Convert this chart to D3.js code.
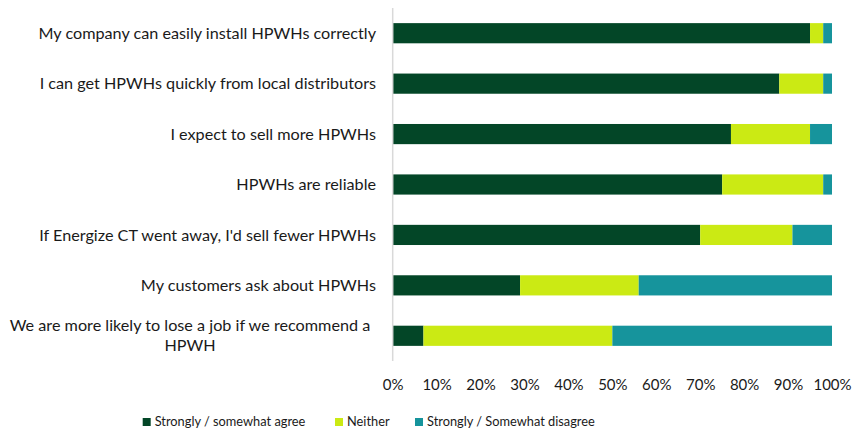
<!DOCTYPE html>
<html>
<head>
<meta charset="utf-8">
<script src="https://cdn.jsdelivr.net/npm/d3@7"></script>
<style>
  body { margin: 0; background: #fff; }
  svg { font-family: Lato, "Open Sans", sans-serif; }
</style>
</head>
<body>
<div id="chart"></div>
<script>
// data (percent)
var categories = [
  "My company can easily install HPWHs correctly",
  "I can get HPWHs quickly from local distributors",
  "I expect to sell more HPWHs",
  "HPWHs are reliable",
  "If Energize CT went away, I'd sell fewer HPWHs",
  "My customers ask about HPWHs",
  "We are more likely to lose a job if we recommend a|HPWH"
]
var agree    = [95, 88, 77, 75, 70, 29, 7]
var neither  = [3, 10, 18, 23, 21, 27, 43]
var disagree = [2, 2, 5, 2, 9, 44, 50]
var seriesNames = ["Strongly / somewhat agree", "Neither", "Strongly / Somewhat disagree"]
var ticks = [0, 10, 20, 30, 40, 50, 60, 70, 80, 90, 100]

var width = 854, height = 433
var colors = ["#034627", "#cbea14", "#16949c"]

var svg = d3.select("#chart").append("svg")
  .attr("width", width)
  .attr("height", height)

var x = d3.scaleLinear().domain([0, 100]).range([392.7, 832])
var y = d3.scaleBand().domain(categories).range([8, 361]).paddingInner(0.6).paddingOuter(0.3)

var rows = categories.map(function(c, i) {
  return { cat: c, agree: agree[i], neither: neither[i], disagree: disagree[i] }
})
var stack = d3.stack().keys(["agree", "neither", "disagree"])
var layers = stack(rows)

svg.selectAll("g.layer")
  .data(layers)
  .enter()
  .append("g")
    .attr("fill", function(d, i) { return colors[i] })
  .selectAll("rect")
  .data(function(d) { return d })
  .enter()
  .append("rect")
    .attr("x", function(d) { return x(d[0]) })
    .attr("width", function(d) { return x(d[1]) - x(d[0]) })
    .attr("y", function(d) { return y(d.data.cat) })
    .attr("height", y.bandwidth())

// category axis line
svg.append("line")
  .attr("x1", x(0)).attr("x2", x(0))
  .attr("y1", 8).attr("y2", 361)
  .attr("stroke", "#d9d9d9")
  .attr("stroke-width", 1.5)

// category labels (| = line break, wrapped lines are centred)
categories.forEach(function(c) {
  var lines = c.split("|")
  var cy = y(c) + y.bandwidth() / 2
  if (lines.length == 1) {
    svg.append("text")
      .attr("x", 376)
      .attr("y", cy)
      .attr("dy", "0.35em")
      .attr("text-anchor", "end")
      .style("font-size", "16.2px")
      .attr("fill", "#1a1a1a")
      .text(c)
  } else {
    lines.forEach(function(l, j) {
      svg.append("text")
        .attr("x", 190)
        .attr("y", cy + (j - (lines.length - 1) / 2) * 20)
        .attr("dy", "0.35em")
        .attr("text-anchor", "middle")
        .style("font-size", "16.2px")
        .attr("fill", "#1a1a1a")
        .text(l)
    })
  }
})

// x axis tick labels
var xAxis = svg.append("g")
  .attr("transform", "translate(0,372)")
  .call(d3.axisBottom(x).tickValues(ticks).tickSize(0).tickFormat(function(d) { return d + "%" }))
xAxis.select(".domain").remove()
xAxis.selectAll("text")
  .attr("font-family", "Lato, sans-serif")
  .style("font-size", "15px")
  .attr("fill", "#1a1a1a")
  .attr("y", 13)
  .attr("dy", "0.35em")

// legend
var legendX = [142.7, 335, 415]
var legend = svg.selectAll("g.legend")
  .data(seriesNames)
  .enter()
  .append("g")
    .attr("transform", function(d, i) { return "translate(" + legendX[i] + ",422)" })
legend.append("rect")
  .attr("x", 0).attr("y", -4)
  .attr("width", 8).attr("height", 8)
  .attr("fill", function(d, i) { return colors[i] })
legend.append("text")
  .attr("x", 12)
  .attr("dy", "0.35em")
  .style("font-size", "12.8px")
  .attr("fill", "#1a1a1a")
  .text(function(d) { return d })
</script>
</body>
</html>
